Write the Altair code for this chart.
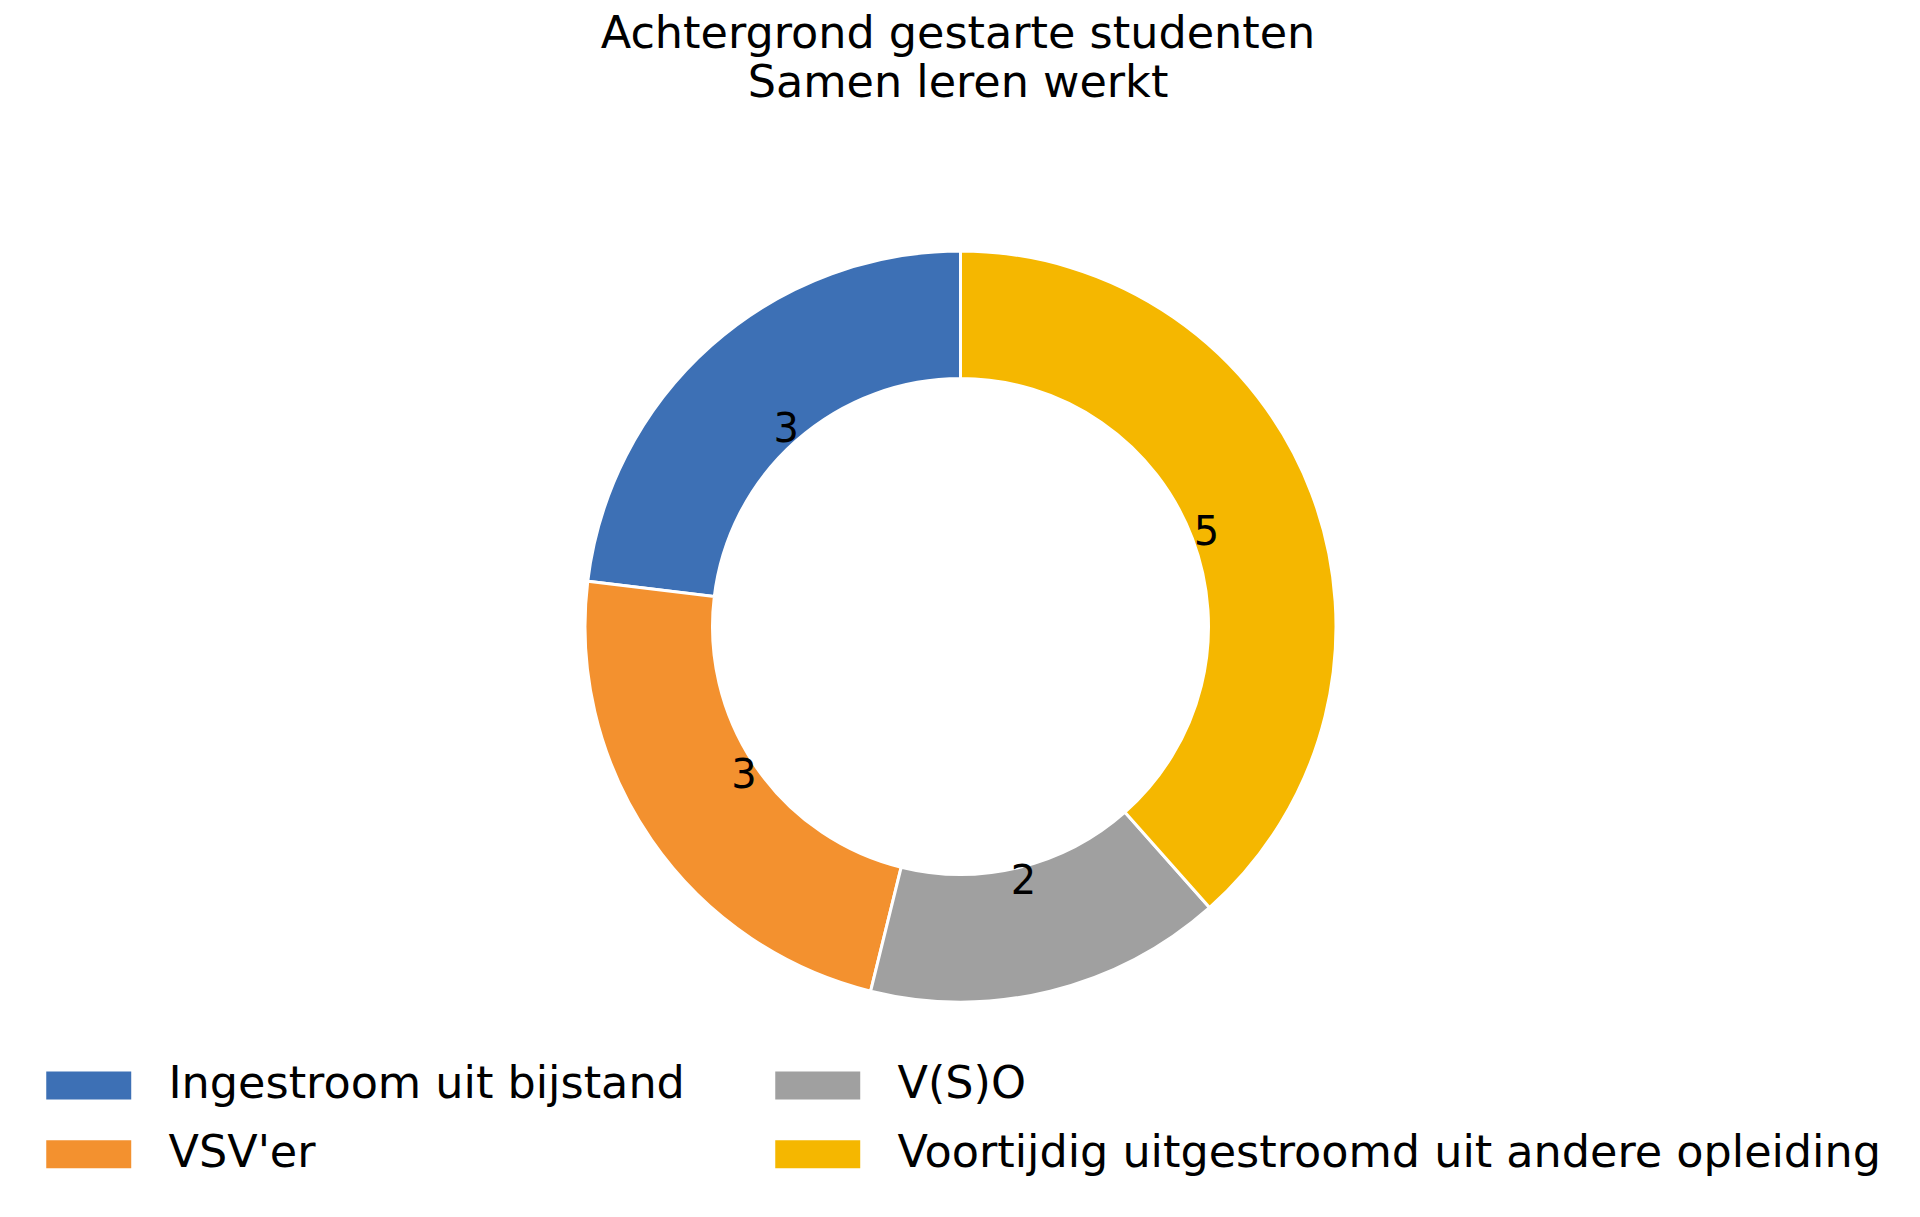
import altair as alt
import pandas as pd

# --- data ---
categories = ["Ingestroom uit bijstand", "VSV'er", "V(S)O",
              "Voortijdig uitgestroomd uit andere opleiding"]
counts = [3, 3, 2, 5]
# Vega draws clockwise from 12 o'clock; the reference runs counter-clockwise
# from the top starting with "Ingestroom", so reverse the stacking order.
stack_order = [4, 3, 2, 1]
colors = ["#3D70B5", "#F3912F", "#A0A0A0", "#F5B700"]
title_lines = ["Achtergrond gestarte studenten", "Samen leren werkt"]

df = pd.DataFrame({"categorie": categories, "aantal": counts, "volgorde": stack_order})

FONT = "DejaVu Sans"
CX, CY = 952.5, 618.5      # donut centre inside the view
R_OUT, R_IN = 375.5, 248

base = alt.Chart(df).encode(
    theta=alt.Theta("aantal:Q", stack=True),
    order=alt.Order("volgorde:Q"),
    x=alt.value(CX),
    y=alt.value(CY),
)

arcs = base.mark_arc(
    outerRadius=R_OUT, innerRadius=R_IN, stroke="white", strokeWidth=3
).encode(
    color=alt.Color(
        "categorie:N",
        scale=alt.Scale(domain=categories, range=colors),
        legend=alt.Legend(
            title=None,
            orient="none",
            legendX=30,
            legendY=1055,
            columns=2,
            columnPadding=82,
            rowPadding=24,
            padding=0,
            symbolType="M-1,-1H5.07V1H-1Z",
            symbolSize=784,
            symbolStrokeWidth=0,
            symbolOpacity=1,
            labelFont=FONT,
            labelFontSize=44.5,
            labelColor="black",
            labelOffset=86,
            labelLimit=0,
        ),
    )
)

labels = base.mark_text(
    radius=263, font=FONT, fontSize=40, color="black",
    align="center", baseline="middle"
).encode(text=alt.Text("aantal:Q"))

chart = (
    alt.layer(arcs, labels)
    .properties(
        width=1900,
        height=1190,
        autosize="none",
        padding=0,
        title=alt.TitleParams(
            text=title_lines,
            font=FONT,
            fontSize=44.5,
            fontWeight="normal",
            color="black",
            lineHeight=49,
            anchor="middle",
            frame="group",
            offset=-98,
        ),
    )
    .configure_view(strokeWidth=0, stroke="transparent")
)

chart.save("out.html", embed_options={"renderer": "svg", "actions": False})
